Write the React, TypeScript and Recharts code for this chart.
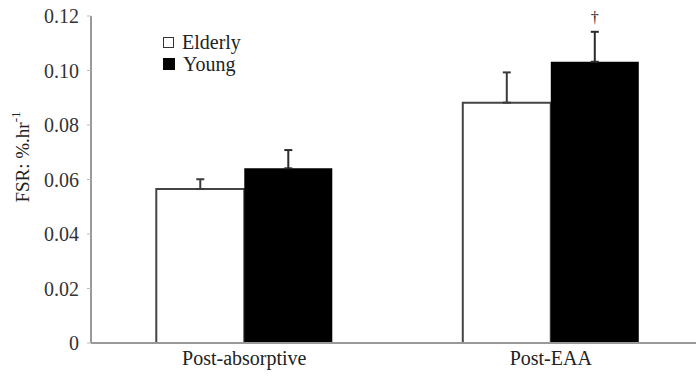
import React from "react";
import { BarChart, Bar, XAxis, YAxis, ErrorBar, LabelList } from "recharts";

const categories = ["Post-absorptive", "Post-EAA"];
const elderly = [0.0565, 0.0882];
const young = [0.0641, 0.1032];
const elderlyErr = [0.0036, 0.0111];
const youngErr = [0.0067, 0.011];
const significance = ["", "†"];
const yTicks = [0, 0.02, 0.04, 0.06, 0.08, 0.1, 0.12];
const legendItems = [
  { name: "Elderly", fill: "#fff" },
  { name: "Young", fill: "#000" },
];

const data = categories.map((c, i) => ({
  category: c,
  elderly: elderly[i],
  young: young[i],
  elderlyErr: [0, elderlyErr[i]],
  youngErr: [0, youngErr[i]],
  sig: significance[i],
}));

const FONT = "Liberation Serif, Times New Roman, serif";

const YLabel = () => {
  const cx = 22;
  const cy = 157;
  return (
    <text
      x={cx}
      y={cy}
      transform={`rotate(-90, ${cx}, ${cy})`}
      textAnchor="middle"
      dominantBaseline="central"
      fontFamily={FONT}
      fontSize={19}
      fill="#222"
    >
      FSR: %.hr
      <tspan dy={-7} fontSize={13}>-1</tspan>
    </text>
  );
};

const SigLabel = (props: any) => {
  const { x, y, width, value } = props;
  if (!value) return null;
  return (
    <text x={x + width / 2} y={y - 39} textAnchor="middle" fontFamily={FONT} fontSize={16} fill="#222">
      {value}
    </text>
  );
};

export default function App() {
  return (
    <div
      style={{
        position: "absolute",
        left: 0,
        top: 0,
        width: 696,
        height: 377,
        overflow: "hidden",
        background: "#fff",
        fontFamily: FONT,
      }}
    >
      <BarChart
        width={720}
        height={377}
        data={data}
        margin={{ top: 16, right: 16, bottom: 0, left: 0 }}
        barCategoryGap="21.3%"
        barGap={0}
        style={{ fontFamily: FONT }}
      >
        <XAxis
          dataKey="category"
          height={34}
          tickLine={false}
          tickSize={0}
          tickMargin={8}
          axisLine={{ stroke: "#999", strokeWidth: 2 }}
          tick={{ fontFamily: FONT, fontSize: 20, fill: "#222" }}
        />
        <YAxis
          width={91}
          domain={[0, 0.12]}
          ticks={yTicks}
          interval={0}
          tickSize={4}
          tickMargin={8}
          tickLine={{ stroke: "#bbb" }}
          axisLine={{ stroke: "#999", strokeWidth: 2 }}
          tick={{ fontFamily: FONT, fontSize: 20, fill: "#333" }}
          tickFormatter={(v: number) => (v === 0 ? "0" : v.toFixed(2))}
          label={{ content: YLabel }}
        />
        <Bar dataKey="elderly" fill="#fff" stroke="#444" strokeWidth={2} isAnimationActive={false}>
          <ErrorBar dataKey="elderlyErr" width={4} stroke="#3a3a3a" strokeWidth={2} direction="y" />
        </Bar>
        <Bar dataKey="young" fill="#000" isAnimationActive={false}>
          <ErrorBar dataKey="youngErr" width={4} stroke="#2a2a2a" strokeWidth={2} direction="y" />
          <LabelList dataKey="sig" content={SigLabel} />
        </Bar>
      </BarChart>
      <div
        style={{
          position: "absolute",
          left: 163,
          top: 31,
          fontFamily: FONT,
          fontSize: 20,
          color: "#222",
          lineHeight: "22px",
        }}
      >
        {legendItems.map((item) => (
          <div key={item.name} style={{ display: "flex", alignItems: "center" }}>
            <span
              style={{
                display: "inline-block",
                width: item.fill === "#fff" ? 9 : 12,
                height: item.fill === "#fff" ? 9 : 12,
                border: item.fill === "#fff" ? "1.5px solid #333" : "none",
                background: item.fill,
                marginRight: 8,
              }}
            />
            <span>{item.name}</span>
          </div>
        ))}
      </div>
    </div>
  );
}
